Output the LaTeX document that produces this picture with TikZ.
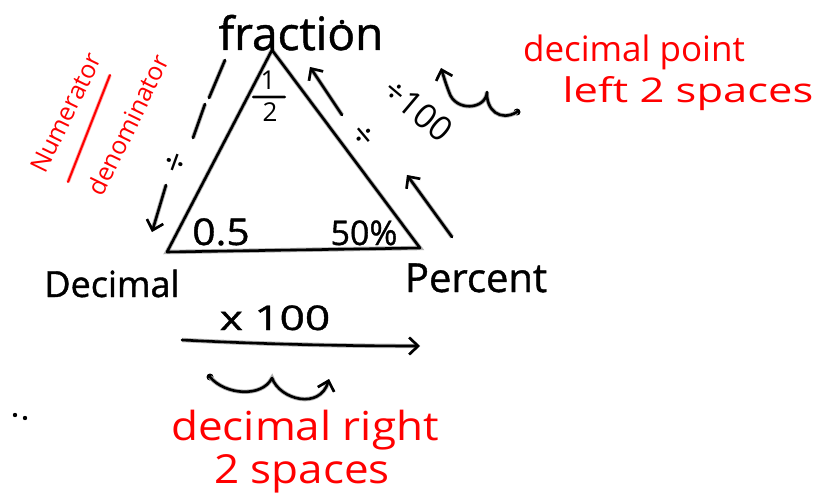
\documentclass[tikz,border=0pt]{standalone}
\usepackage{fontspec}
\setmainfont{Open Sans}
\usetikzlibrary{arrows.meta}
\tikzset{
  ink/.style={line width=2.6pt, line cap=round, line join=round,
    preaction={draw=black!30, line width=4.4pt}},
  arr/.style={ink, -{Straight Barb[length=9pt,width=17pt,line width=2.6pt]}},
  hand/.style={font=\fontsize{40}{40}\selectfont\addfontfeatures{FakeBold=1}, inner sep=0pt, anchor=base},
  num/.style={font=\fontsize{34}{34}\selectfont\addfontfeatures{FakeBold=1}, inner sep=0pt, anchor=base},
  redtxt/.style={text=red, font=\fontsize{35}{35}\selectfont, inner sep=0pt, anchor=base},
  redsmall/.style={text=red, font=\fontsize{25}{25}\selectfont, inner sep=0pt},
}
\begin{document}
\begin{tikzpicture}[x=1pt,y=-1pt]
\useasboundingbox (0,0) rectangle (817,500);
% triangle
\coordinate (F) at (272,50);
\coordinate (D) at (167,252);
\coordinate (P) at (420,248);
\draw[ink] (F) -- (D) -- (P) -- cycle;
% labels
\node[hand, font=\fontsize{46}{46}\selectfont\addfontfeatures{FakeBold=1}] (frac) at (301,50) {fraction};
\fill (342,22) circle (2.3);
\node[hand, font=\fontsize{36}{36}\selectfont\addfontfeatures{FakeBold=1}] (dec) at (112,297) {Decimal};
\node[hand] (pct) at (476,292) {Percent};
\node[num, font=\fontsize{37}{37}\selectfont\addfontfeatures{FakeBold=1}, xscale=1.1] (half) at (221,245) {0.5};
\node[num] (fifty) at (364,245) {50\%};
\node[font=\fontsize{26}{26}\selectfont, inner sep=0pt, anchor=base] (one) at (268,90) {1};
\node[font=\fontsize{26}{26}\selectfont, inner sep=0pt, anchor=base] (two) at (270,122) {2};
\coordinate (b1) at (253,97); \coordinate (b2) at (285,97);
\draw[ink, line width=2.2pt] (b1) -- (b2);
% left side
\coordinate (l1) at (225,60); \coordinate (l2) at (209,98);
\coordinate (l3) at (205,104); \coordinate (l4) at (193,138);
\draw[ink] (l1) -- (l2);
\draw[ink] (l3) -- (l4);
\node[font=\fontsize{36}{36}\selectfont, rotate=70, inner sep=0pt] (ldiv) at (177,163) {÷};
\coordinate (la1) at (166,185); \coordinate (la2) at (152,232);
\draw[arr] (la1) -- (la2);
% right side
\coordinate (ra1) at (342,115); \coordinate (ra2) at (310,67);
\draw[arr] (ra1) -- (ra2);
\node[font=\fontsize{36}{36}\selectfont, rotate=-50, inner sep=0pt] (rdiv) at (362,137) {÷};
\coordinate (rb1) at (452,237); \coordinate (rb2) at (407,175);
\draw[arr] (rb1) -- (rb2);
\node[font=\fontsize{34}{34}\selectfont, rotate=-40, inner sep=0pt] (hund) at (418,110) {÷100};
% top curly arrow
\coordinate (cs) at (517,112);
\coordinate (cm) at (487,92);
\coordinate (ce) at (441,68);
\fill (cs) circle (3.5);
\draw[arr] (cs) .. controls (500,122) and (486,110) .. (cm)
  .. controls (486,110) and (455,112) .. (449,92)
  .. controls (446,84) .. (ce);
% red texts top right
\node[redtxt] (dp) at (634,62) {decimal point};
\node[redtxt, font=\fontsize{34}{34}\selectfont, xscale=1.28] (l2s) at (688,103) {left 2 spaces};
% numerator / denominator
\node[redsmall, rotate=64] (numr) at (66,113) {Numerator};
\node[redsmall, rotate=64] (denr) at (128,125) {denominator};
\coordinate (s1) at (110,75); \coordinate (s2) at (68,182);
\draw[red, line width=2pt, line cap=round, preaction={draw=red!35, line width=3.6pt}] (s1) -- (s2);
% bottom
\node[num, xscale=1.3] (x100) at (275,330) {x 100};
\coordinate (ba1) at (182,340); \coordinate (ba2) at (420,346);
\draw[arr] (ba1) .. controls (260,344) and (340,346) .. (ba2);
\coordinate (ds) at (210,377);
\coordinate (dm) at (272,378);
\coordinate (de) at (329,379);
\fill (ds) circle (3.5);
\draw[arr] (ds) .. controls (225,395) and (262,398) .. (dm)
  .. controls (280,400) and (320,410) .. (de);
\node[redtxt, font=\fontsize{40}{40}\selectfont, xscale=1.1] (dr) at (305,440) {decimal right};
\node[redtxt, font=\fontsize{40}{40}\selectfont, xscale=1.1] (d2s) at (302,483) {2 spaces};
\fill (15,415) circle (2.2);
\fill (25,418) circle (2.2);
\end{tikzpicture}
\end{document}
